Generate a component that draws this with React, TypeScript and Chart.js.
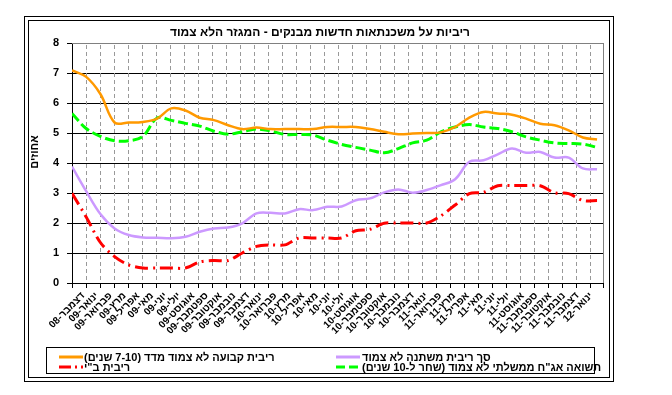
import React, { useEffect, useRef } from 'react';
import { Chart, registerables } from 'chart.js';

const months = [
  'דצמבר-08',
  'ינואר-09', 'פברואר-09', 'מרץ-09', 'אפריל-09', 'מאי-09', 'יוני-09',
  'יולי-09', 'אוגוסט-09', 'ספטמבר-09', 'אוקטובר-09', 'נובמבר-09', 'דצמבר-09',
  'ינואר-10', 'פברואר-10', 'מרץ-10', 'אפריל-10', 'מאי-10', 'יוני-10',
  'יולי-10', 'אוגוסט-10', 'ספטמבר-10', 'אוקטובר-10', 'נובמבר-10', 'דצמבר-10',
  'ינואר-11', 'פברואר-11', 'מרץ-11', 'אפריל-11', 'מאי-11', 'יוני-11',
  'יולי-11', 'אוגוסט-11', 'ספטמבר-11', 'אוקטובר-11', 'נובמבר-11', 'דצמבר-11',
  'ינואר-12',
];

// ריבית קבועה לא צמוד מדד (7-10 שנים)
const fixedRate = [
  7.09, 6.87, 6.3, 5.35, 5.35, 5.37, 5.48, 5.82, 5.75, 5.51, 5.43, 5.26, 5.13,
  5.18, 5.13, 5.13, 5.13, 5.13, 5.2, 5.2, 5.2, 5.13, 5.04, 4.96, 4.98, 5.0,
  5.02, 5.2, 5.51, 5.7, 5.65, 5.61, 5.48, 5.31, 5.26, 5.09, 4.85, 4.78,
];

// סך ריבית משתנה לא צמוד
const variableRate = [
  3.88, 3.06, 2.3, 1.82, 1.6, 1.52, 1.51, 1.49, 1.54, 1.71, 1.82, 1.85, 1.99,
  2.32, 2.34, 2.32, 2.46, 2.43, 2.54, 2.55, 2.76, 2.82, 3.02, 3.12, 3.01, 3.1,
  3.26, 3.46, 4.04, 4.09, 4.29, 4.48, 4.34, 4.37, 4.18, 4.18, 3.82, 3.79,
];

// ריבית ב"י
const boiRate = [
  2.99, 2.2, 1.35, 0.88, 0.6, 0.5, 0.5, 0.5, 0.5, 0.7, 0.75, 0.75, 1.0,
  1.22, 1.27, 1.27, 1.5, 1.5, 1.5, 1.5, 1.74, 1.79, 1.99, 2.0, 2.0, 2.0,
  2.24, 2.6, 2.98, 3.02, 3.24, 3.25, 3.25, 3.24, 3.01, 2.98, 2.75, 2.75,
];

// תשואה אג"ח ממשלתי לא צמוד (שחר ל-10 שנים)
const govBond = [
  5.65, 5.15, 4.89, 4.74, 4.74, 4.89, 5.5, 5.42, 5.32, 5.23, 5.06, 4.96, 5.04,
  5.13, 5.07, 4.95, 4.95, 4.93, 4.76, 4.62, 4.52, 4.43, 4.34, 4.48, 4.67, 4.76,
  5.04, 5.2, 5.28, 5.2, 5.15, 5.04, 4.87, 4.76, 4.67, 4.65, 4.63, 4.52,
];

const yMin = 0;
const yMax = 8;
const yStep = 1;

const titleText = 'ריביות על משכנתאות חדשות מבנקים - המגזר הלא צמוד';
const yTitle = 'אחוזים';

const seriesNames = [
  'ריבית קבועה לא צמוד מדד (7-10 שנים)',
  'סך ריבית משתנה לא צמוד',
  'ריבית ב"י',
  'תשואה אג"ח ממשלתי לא צמוד (שחר ל-10 שנים)',
];

const FONT = "'Liberation Sans', Arial, 'DejaVu Sans', sans-serif";

const ORANGE = '#FF9900';
const PURPLE = '#CC99FF';
const RED = '#FF0000';
const GREEN = '#00FF00';
const GRID_GRAY = '#999999';

const X_MAX = 37.42;
// category-grid step expressed in data-axis units
const GRID_STEP = X_MAX / 37.93;

const toPoints = (arr: number[]) => arr.map((v, i) => ({ x: i, y: v }));

const framePlugin = {
  id: 'plotFrameGrid',
  beforeDatasetsDraw(chart: any) {
    const ctx: CanvasRenderingContext2D = chart.ctx;
    const area = chart.chartArea;
    const s = chart.scales.x;
    const left = Math.round(area.left);
    const right = Math.round(area.right);
    const top = Math.round(area.top);
    const bottom = Math.round(area.bottom);
    let p0 = s ? s.getPixelForValue(0) : NaN;
    let p1 = s ? s.getPixelForValue(X_MAX) : NaN;
    const degenerate = !Number.isFinite(p0) || !Number.isFinite(p1) || p1 - p0 < 100;
    if (degenerate) {
      p0 = area.left;
      p1 = area.right;
    }
    const toPx = (v: number) => p0 + ((p1 - p0) * v) / X_MAX;
    ctx.save();
    for (let k = 0; k <= 40; k++) {
      const px = toPx(k * GRID_STEP);
      if (px > area.right - 1) break;
      const x = Math.round(px);
      if (k > 0) {
        ctx.fillStyle = GRID_GRAY;
        for (let y = top + 2; y < bottom; y += 7) {
          ctx.fillRect(x, y, 1, Math.min(4, bottom - y));
        }
      }
      ctx.fillStyle = '#000';
      ctx.fillRect(x, bottom, 1, 5);
    }
    ctx.fillStyle = '#000';
    ctx.fillRect(right, bottom, 1, 5);
    // plot frame top / right in gray
    ctx.fillStyle = '#808080';
    ctx.fillRect(left, top, right - left + 1, 1);
    ctx.fillRect(right, top, 1, bottom - top);
    // x axis line
    ctx.fillStyle = '#000';
    ctx.fillRect(left, bottom, right - left + 1, 1);
    ctx.restore();
  },
};

Chart.register(...registerables, framePlugin);

function Swatch({ color, dash }: { color: string; dash?: string }) {
  return (
    <svg width={24} height={6} style={{ display: 'block' }}>
      <line x1={0} y1={3} x2={24} y2={3} stroke={color} strokeWidth={3} strokeDasharray={dash} />
    </svg>
  );
}

export default function App() {
  const canvasRef = useRef<HTMLCanvasElement | null>(null);

  useEffect(() => {
    const canvas = canvasRef.current;
    if (!canvas) return;
    const chart = new Chart(canvas, {
      type: 'line',
      data: {
        datasets: [
          {
            label: seriesNames[0],
            data: toPoints(fixedRate),
            borderColor: ORANGE,
            borderWidth: 2.5,
            tension: 0.35,
            pointRadius: 0,
            fill: false,
          },
          {
            label: seriesNames[1],
            data: toPoints(variableRate),
            borderColor: PURPLE,
            borderWidth: 2.5,
            tension: 0.35,
            pointRadius: 0,
            fill: false,
          },
          {
            label: seriesNames[2],
            data: toPoints(boiRate),
            borderColor: RED,
            borderWidth: 3,
            borderDash: [13, 5, 2, 5],
            tension: 0.3,
            pointRadius: 0,
            fill: false,
          },
          {
            label: seriesNames[3],
            data: toPoints(govBond),
            borderColor: GREEN,
            borderWidth: 3,
            borderDash: [10, 4],
            tension: 0.35,
            pointRadius: 0,
            fill: false,
          },
        ],
      },
      options: {
        responsive: false,
        devicePixelRatio: 1,
        animation: false,
        layout: { padding: { left: 22, right: 69, top: 43, bottom: 52 } },
        plugins: {
          legend: { display: false },
          title: { display: false },
          tooltip: { enabled: false },
        },
        scales: {
          x: {
            type: 'linear',
            min: 0,
            max: X_MAX,
            display: false,
          },
          xLabels: {
            type: 'linear',
            position: 'bottom',
            min: -0.816,
            max: 37.86,
            afterFit: (s: any) => {
              s.height = 60;
            },
            grid: { display: false, drawTicks: false },
            border: { display: false },
            ticks: {
              stepSize: 1,
              includeBounds: false,
              autoSkip: false,
              minRotation: 45,
              maxRotation: 45,
              padding: 7,
              color: '#000',
              font: { family: FONT, size: 10, weight: 'bold' },
              callback: (v: any) => {
                const n = Number(v);
                return Number.isInteger(n) && months[n] !== undefined ? months[n] : '';
              },
            },
          },
          y: {
            min: yMin,
            max: yMax,
            afterFit: (s: any) => {
              s.width = 50;
            },
            grid: {
              color: (c: any) => (c.tick && c.tick.value === yMax ? 'rgba(0,0,0,0)' : '#000'),
              lineWidth: 1,
              tickColor: '#000',
              tickLength: 5,
            },
            border: { display: true, color: '#000', width: 1 },
            ticks: {
              stepSize: yStep,
              padding: 8,
              color: '#000',
              font: { family: FONT, size: 11, weight: 'bold' },
            },
          },
        },
      } as any,
    });
    return () => chart.destroy();
  }, []);

  const text: React.CSSProperties = {
    position: 'absolute',
    fontFamily: FONT,
    fontWeight: 'bold',
    fontSize: 11,
    color: '#000',
    whiteSpace: 'nowrap',
    lineHeight: '11px',
  };

  return (
    <div style={{ position: 'fixed', left: 0, top: 0, width: 672, height: 395, background: '#fff' }}>
      <canvas ref={canvasRef} width={672} height={395} style={{ position: 'absolute', left: 0, top: 0 }} />
      <div style={{ position: 'absolute', left: 24, top: 16, width: 590, height: 366, border: '1px solid #000', boxSizing: 'border-box' }} />
      <div style={{ position: 'absolute', left: 28, top: 20, width: 582, height: 358, border: '1px solid #000', boxSizing: 'border-box' }} />
      <div dir="rtl" style={{ ...text, fontSize: 12, lineHeight: '12px', left: 0, width: 640, top: 26, textAlign: 'center' }}>{titleText}</div>
      <div
        dir="rtl"
        style={{ ...text, left: 34, top: 152, transform: 'translate(-50%, -50%) rotate(-90deg)' }}
      >
        {yTitle}
      </div>
      <div style={{ position: 'absolute', left: 46, top: 347, width: 549, height: 27, border: '1px solid #000', boxSizing: 'border-box' }} />
      <div style={{ position: 'absolute', left: 59, top: 354 }}><Swatch color={ORANGE} /></div>
      <div dir="rtl" style={{ ...text, left: 84, top: 352 }}>{seriesNames[0]}</div>
      <div style={{ position: 'absolute', left: 59, top: 364 }}><Swatch color={RED} dash="12 4 2 4" /></div>
      <div dir="rtl" style={{ ...text, left: 84, top: 362 }}>{seriesNames[2]}</div>
      <div style={{ position: 'absolute', left: 336, top: 354 }}><Swatch color={PURPLE} /></div>
      <div dir="rtl" style={{ ...text, left: 362, top: 352 }}>{seriesNames[1]}</div>
      <div style={{ position: 'absolute', left: 336, top: 364 }}><Swatch color={GREEN} dash="9 4" /></div>
      <div dir="rtl" style={{ ...text, left: 362, top: 362 }}>{seriesNames[3]}</div>
    </div>
  );
}
